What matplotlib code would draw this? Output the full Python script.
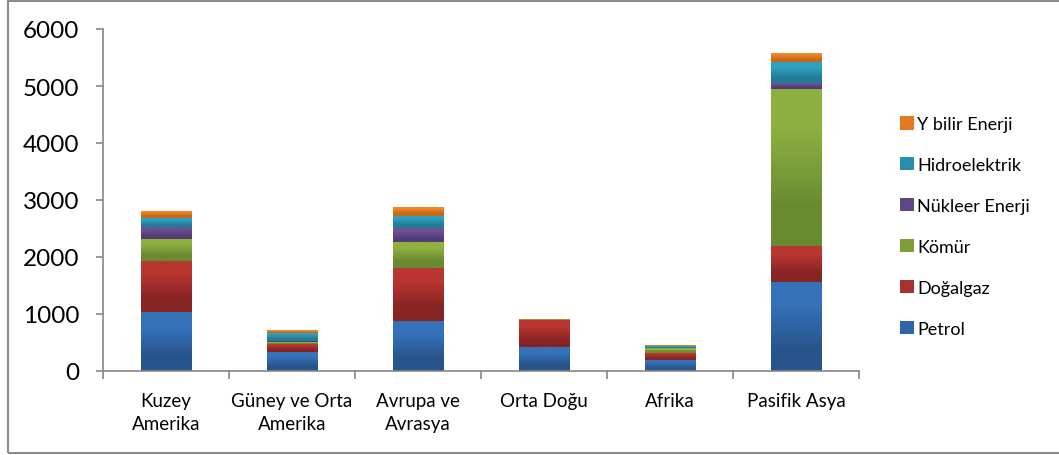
import matplotlib
matplotlib.use("Agg")
import matplotlib.pyplot as plt
import numpy as np
from matplotlib.patches import Rectangle, Patch
from matplotlib.ticker import FixedLocator
from matplotlib.colors import to_rgb

plt.rcParams['font.family'] = ['Lato', 'DejaVu Sans']

regions = ["Kuzey\nAmerika", "Güney ve Orta\nAmerika", "Avrupa ve\nAvrasya",
           "Orta Doğu", "Afrika", "Pasifik Asya"]
series_names = ["Petrol", "Doğalgaz", "Kömür", "Nükleer Enerji", "Hidroelektrik", "Y bilir Enerji"]
petrol = [1035, 333, 877, 427, 198, 1561]
dogalgaz = [895, 141, 930, 470, 123, 632]
komur = [386, 29, 456, 8, 80, 2754]
nukleer = [216, 18, 240, 1, 5, 111]
hidro = [152, 151, 216, 4, 25, 363]
yenilenebilir = [123, 47, 158, 2, 17, 158]
yticks = [0, 1000, 2000, 3000, 4000, 5000, 6000]

colors = ["#2F64A8", "#A83131", "#7E9E3A", "#5F4786", "#2A8EAA", "#E27A22"]
tops = ["#3572BA", "#BA3631", "#8DB041", "#6D5096", "#2FA1C1", "#F2862A"]
bottoms = ["#28548C", "#872424", "#698A30", "#533C76", "#227C95", "#C8691A"]
data = [petrol, dogalgaz, komur, nukleer, hidro, yenilenebilir]

fig = plt.figure(figsize=(10.59, 4.56), dpi=100)
ax = fig.add_axes([103/1059, 1-372/456, (859-103)/1059, (372-30)/456])

x = np.arange(len(regions))
bottom = np.zeros(len(regions))
for vals, c, ct, cb, name in zip(data, colors, tops, bottoms, series_names):
    bars = ax.bar(x, vals, width=0.40, bottom=bottom, color=c, label=name, linewidth=0, zorder=3)
    grad = np.array([to_rgb(cb), to_rgb(ct)])[:, None, :]
    for b in bars:
        x0, y0 = b.get_x(), b.get_y()
        w, h = b.get_width(), b.get_height()
        if h <= 0:
            continue
        im = ax.imshow(grad, extent=(x0, x0 + w, y0, y0 + h), origin='lower',
                       aspect='auto', interpolation='bilinear', zorder=4)
        im.set_clip_path(b)
    bottom += np.array(vals)

ax.set_xlim(-0.5, len(regions) - 0.5)
ax.set_ylim(0, 6000)
ax.set_yticks(yticks)
ax.set_yticklabels([str(v) for v in yticks], fontsize=17.5)
ax.set_xticks(x)
ax.set_xticklabels(regions, fontsize=13.5, linespacing=1.45)
ax.tick_params(axis='x', which='major', length=0, pad=15)
ax.xaxis.set_minor_locator(FixedLocator(np.arange(-0.5, len(regions), 1.0)))
ax.tick_params(axis='x', which='minor', length=6, direction='out', color='#868686', width=1.2)
ax.tick_params(axis='y', length=5, direction='out', color='#868686', width=1.2, pad=12)
for s in ['top', 'right']:
    ax.spines[s].set_visible(False)
for s in ['left', 'bottom']:
    ax.spines[s].set_color('#868686')
    ax.spines[s].set_linewidth(1.2)
    ax.spines[s].set_zorder(5)

handles = [Patch(facecolor=c, edgecolor='none') for c in colors][::-1]
labels = series_names[::-1]
fig.legend(handles, labels, loc='upper left', bbox_to_anchor=(893/1059, 1-110/456),
           frameon=False, fontsize=13, handlelength=0.75, handleheight=0.75,
           handletextpad=0.2, labelspacing=1.38, borderaxespad=0)

fig.patches.append(Rectangle((8/1059, 2/456), 1.1, 1-4/456, transform=fig.transFigure,
                             fill=False, edgecolor='#8C8C8C', linewidth=1.5))

fig.savefig("out.png", dpi=100)
